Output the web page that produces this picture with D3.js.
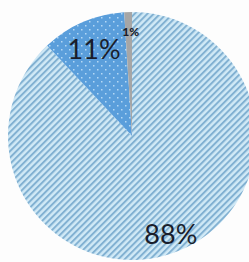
<!DOCTYPE html>
<html>
<head>
<meta charset="utf-8">
<script src="https://cdn.jsdelivr.net/npm/d3@7/dist/d3.min.js"></script>
<style>
  html, body { margin: 0; padding: 0; background: #fdfdfd; }
  svg { display: block; }
</style>
</head>
<body>
<div id="chart"></div>
<script>
// Data
const categories = ["Series A", "Series B", "Series C"];
const values = [88, 11, 1];
const labels = ["88%", "11%", "1%"];

const W = 249, H = 262;
const cx = 132, cy = 136, R = 124;

const svg = d3.select("#chart").append("svg")
  .attr("width", W).attr("height", H);

svg.append("rect").attr("width", W).attr("height", H).attr("fill", "#fdfdfd");

const defs = svg.append("defs");

// Diagonal hatch pattern for the big slice
const hatch = defs.append("pattern")
  .attr("id", "hatch")
  .attr("patternUnits", "userSpaceOnUse")
  .attr("width", 4.5).attr("height", 4.5)
  .attr("patternTransform", "rotate(45)");
hatch.append("rect").attr("width", 4.5).attr("height", 4.5).attr("fill", "#d0e9f6");
hatch.append("rect").attr("width", 2).attr("height", 4.5).attr("fill", "#82b1d2");

// Dotted pattern for the medium slice
const dots = defs.append("pattern")
  .attr("id", "dots")
  .attr("patternUnits", "userSpaceOnUse")
  .attr("width", 8).attr("height", 8);
dots.append("rect").attr("width", 8).attr("height", 8).attr("fill", "#5a9edb");
dots.append("rect").attr("x", 1).attr("y", 1).attr("width", 1.5).attr("height", 1.5).attr("fill", "#b4d8f5");
dots.append("rect").attr("x", 5).attr("y", 5).attr("width", 1.5).attr("height", 1.5).attr("fill", "#b4d8f5");

const fills = ["url(#hatch)", "url(#dots)", "#a6a6a6"];

const pie = d3.pie().sort(null).value(d => d)
  .startAngle(0).endAngle(2 * Math.PI);
const arcs = pie(values);

const arc = d3.arc().innerRadius(0).outerRadius(R);
const g = svg.append("g").attr("transform", `translate(${cx},${cy})`);

g.selectAll("path.slice").data(arcs).enter().append("path")
  .attr("class", "slice")
  .attr("d", arc)
  .attr("fill", (d, i) => fills[i]);

// Labels
const labelRadius = [0.85 * R, 0.77 * R, 0.84 * R];
const fontSizes = [27, 27, 12];
const dx = [0, 0, 2];
g.selectAll("text.lbl").data(arcs).enter().append("text")
  .attr("class", "lbl")
  .attr("transform", (d, i) => {
    const c = d3.arc().innerRadius(labelRadius[i]).outerRadius(labelRadius[i]).centroid(d);
    return `translate(${c[0] + dx[i]},${c[1]})`;
  })
  .attr("text-anchor", "middle")
  .attr("dominant-baseline", "central")
  .attr("font-family", "Lato, 'Open Sans', sans-serif")
  .attr("font-size", (d, i) => fontSizes[i])
  .attr("font-weight", (d, i) => i === 2 ? "900" : "normal")
  .attr("fill", "#1a1d2b")
  .text((d, i) => labels[i]);
</script>
</body>
</html>
